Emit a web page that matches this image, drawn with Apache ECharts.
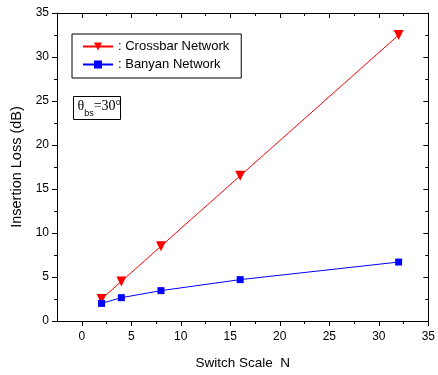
<!DOCTYPE html>
<html>
<head>
<meta charset="utf-8">
<script src="https://cdn.jsdelivr.net/npm/echarts@6/dist/echarts.min.js"></script>
<style>
  html, body { margin: 0; padding: 0; background: #fff; }
  #chart { width: 438px; height: 375px; }
</style>
</head>
<body>
<div id="chart"></div>
<script>
const switchScale = [2, 4, 8, 16, 32]
const crossbarLoss = [2.5, 4.5, 8.5, 16.5, 32.5]
const banyanLoss = [2.0, 2.65, 3.45, 4.7, 6.7]
const xMajorTicks = [0, 5, 10, 15, 20, 25, 30, 35]
const xMinorTicks = [2.5, 7.5, 12.5, 17.5, 22.5, 27.5, 32.5]

const FONT = '"Liberation Sans", Arial, sans-serif'
const chart = echarts.init(document.getElementById('chart'))

const baseX = {
  type: 'value', min: -2.5, max: 35,
  splitLine: { show: false }
}
const baseY = {
  type: 'value', min: 0, max: 35, interval: 5,
  splitLine: { show: false }
}

chart.setOption({
  animation: false,
  grid: { left: 57, right: 5, top: 13, bottom: 54 },
  xAxis: [
    {
      ...baseX,
      position: 'bottom',
      name: 'Switch Scale  N',
      nameLocation: 'middle',
      nameGap: 35,
      nameTextStyle: { fontFamily: FONT, fontSize: 13.5, color: '#000' },
      axisLine: { onZero: false, lineStyle: { color: '#000', width: 1 } },
      axisTick: { customValues: xMajorTicks, length: 5, inside: false, lineStyle: { color: '#000' } },
      axisLabel: { customValues: xMajorTicks, margin: 10, fontFamily: FONT, fontSize: 12, color: '#000' }
    },
    {
      ...baseX,
      position: 'bottom',
      axisLine: { show: false, onZero: false },
      axisTick: { customValues: xMinorTicks, length: 3, inside: false, lineStyle: { color: '#000' } },
      axisLabel: { show: false }
    },
    {
      ...baseX,
      position: 'top',
      axisLine: { onZero: false, lineStyle: { color: '#000', width: 1 } },
      axisTick: { customValues: xMajorTicks, length: 5, inside: true, lineStyle: { color: '#000' } },
      axisLabel: { show: false }
    },
    {
      ...baseX,
      position: 'top',
      axisLine: { show: false, onZero: false },
      axisTick: { customValues: xMinorTicks, length: 3, inside: true, lineStyle: { color: '#000' } },
      axisLabel: { show: false }
    }
  ],
  yAxis: [
    {
      ...baseY,
      position: 'left',
      name: 'Insertion Loss (dB)',
      nameLocation: 'middle',
      nameGap: 29,
      nameTextStyle: { fontFamily: FONT, fontSize: 14.5, color: '#000' },
      axisLine: { show: true, onZero: false, lineStyle: { color: '#000', width: 1 } },
      axisTick: { show: true, length: 5, inside: false, lineStyle: { color: '#000' } },
      minorTick: { show: true, splitNumber: 2, length: 3, lineStyle: { color: '#000' } },
      axisLabel: { margin: 8, fontFamily: FONT, fontSize: 12, color: '#000' }
    },
    {
      ...baseY,
      position: 'right',
      axisLine: { show: true, onZero: false, lineStyle: { color: '#000', width: 1 } },
      axisTick: { show: true, length: 5, inside: true, lineStyle: { color: '#000' } },
      minorTick: { show: true, splitNumber: 2, length: 3, lineStyle: { color: '#000' } },
      axisLabel: { show: false }
    }
  ],
  legend: {
    left: 72, top: 34,
    orient: 'vertical',
    borderColor: '#000', borderWidth: 1, borderRadius: 0,
    padding: [6, 12, 7, 10],
    itemGap: 5,
    itemWidth: 30, itemHeight: 10,
    formatter: ': {name}',
    textStyle: { fontFamily: FONT, fontSize: 13, color: '#000' },
    data: ['Crossbar Network', 'Banyan Network']
  },
  graphic: [{
    type: 'group', left: 73, top: 96,
    children: [
      { type: 'rect', shape: { x: 0, y: 0, width: 47, height: 23 },
        style: { fill: '#fff', stroke: '#000', lineWidth: 1 } },
      { type: 'text', x: 4, y: 3,
        style: {
          text: '{t|θ}{s|bs}{t|=30°}',
          rich: {
            t: { fontFamily: '"Liberation Serif", "Times New Roman", serif', fontSize: 14, color: '#000', verticalAlign: 'top' },
            s: { fontFamily: FONT, fontSize: 9, color: '#000', padding: [10, 0, 0, 0] }
          }
        } }
    ]
  }],
  series: [
    {
      name: 'Crossbar Network', type: 'line',
      data: switchScale.map((n, i) => [n, crossbarLoss[i]]),
      symbol: 'triangle', symbolRotate: 180, symbolSize: 10,
      lineStyle: { color: '#ff0000', width: 1 },
      itemStyle: { color: '#ff0000' }
    },
    {
      name: 'Banyan Network', type: 'line',
      data: switchScale.map((n, i) => [n, banyanLoss[i]]),
      symbol: 'rect', symbolSize: 7,
      lineStyle: { color: '#0000ff', width: 1 },
      itemStyle: { color: '#0000ff' }
    }
  ]
})
</script>
</body>
</html>
